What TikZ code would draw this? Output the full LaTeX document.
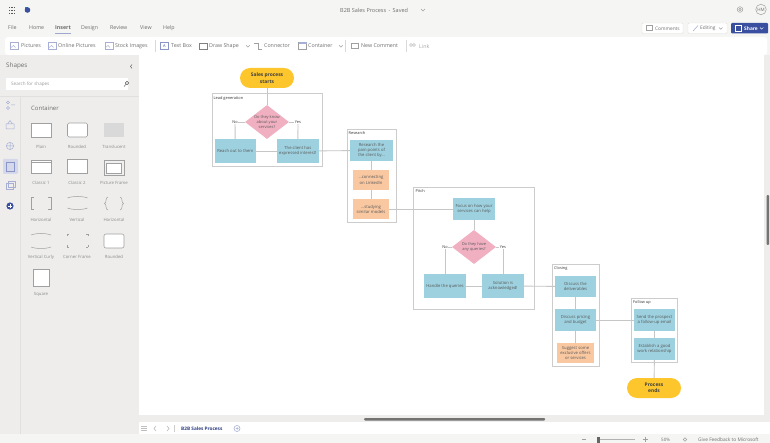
\documentclass[tikz,border=0pt]{standalone}
\usepackage{fontspec}
\setmainfont{Open Sans}
\usetikzlibrary{shapes.geometric}
\definecolor{chrome}{HTML}{F5F5F4}
\definecolor{panel}{HTML}{EEEDEC}
\definecolor{uitext}{HTML}{6E6E6E}
\definecolor{linec}{HTML}{C6C6C6}
\definecolor{flowblue}{HTML}{9DD1DF}
\definecolor{floworange}{HTML}{F9C8A1}
\definecolor{flowpink}{HTML}{F1B0C2}
\definecolor{flowyellow}{HTML}{FDC62D}
\definecolor{accent}{HTML}{3B4FA0}
\definecolor{iconc}{HTML}{A0A0A0}
\tikzset{
 x=1pt,y=-1pt,
 ui/.style={inner sep=0,font=\fontsize{5.3}{6}\selectfont,text=uitext,anchor=west},
 thumbcap/.style={inner sep=0,font=\fontsize{4.3}{5}\selectfont,text=uitext!80},
 thumb/.style={draw=iconc,line width=.6pt,fill=white},
 ic/.style={draw=iconc,line width=.5pt},
 groupbox/.style={draw=black!20,fill=white,line width=.8pt,inner sep=0},
 grouplabel/.style={inner sep=0,anchor=west,font=\fontsize{3.9}{4}\selectfont,text=black!80},
 flowbox/.style={fill=flowblue,inner sep=0,align=center,font=\fontsize{4.2}{5.1}\selectfont,text=black!65},
 optbox/.style={fill=floworange,inner sep=0,align=center,font=\fontsize{4.2}{5.1}\selectfont,text=black!65},
 choice/.style={diamond,aspect=1.3,fill=flowpink,inner sep=0,align=center,font=\fontsize{4}{5}\selectfont,text=black!65,minimum width=44pt,minimum height=34pt},
 pill/.style={fill=flowyellow,rounded corners=10pt,inner sep=0,align=center,font=\fontsize{4.9}{6.4}\selectfont\bfseries,text=black!75,minimum width=54pt,minimum height=20pt},
 tag/.style={inner sep=.6pt,font=\fontsize{3.9}{4}\selectfont,text=black!80},
 link/.style={draw=linec,line width=.9pt},
}
\begin{document}
\begin{tikzpicture}
\useasboundingbox (0,0) rectangle (770,443);
% chrome
\fill[chrome] (0,0) rectangle (770,443);
\fill[panel] (0,55) rectangle (139,434);
\fill[white] (139,55) rectangle (764,415);
\fill[panel] (139,415) rectangle (770,422);
\fill[white] (139,422) rectangle (770,434);
\fill[panel] (764,55) rectangle (770,422);
\fill[white,rounded corners=3pt] (5,37) rectangle (767,55);
\draw[black!12,line width=.4pt] (20,96) -- (20,434);
\draw[black!12,line width=.4pt] (0,96) -- (139,96);
% scrollbars
\fill[black!55,rounded corners=1pt] (364,418) rectangle (545,420.5);
\fill[black!55,rounded corners=1pt] (766.5,195) rectangle (769,245);
% title bar
\foreach \i in {0,1,2}\foreach \j in {0,1,2}\fill[black!65] (8.5+2.8*\i,7+2.8*\j) rectangle +(1.2,1.2);
\fill[accent!70!cyan] (24.5,7.5) rectangle (28,12.5);
\fill[accent] (27.5,10) circle (2.8pt);
\node[ui,font=\fontsize{5.5}{6}\selectfont] (doctitle) at (340,10) {B2B Sales Process\, -\, Saved};
\draw[ic] (421,9) -- (423,11) -- (425,9);
\draw[ic] (740,9.5) circle (2.8pt);
\draw[ic] (740,9.5) circle (1.2pt);
\node[draw=iconc,line width=.5pt,circle,minimum size=10.5pt,inner sep=0,font=\fontsize{4.5}{5}\selectfont,text=uitext] (user) at (761,9.5) {HM};
% menu
\foreach \t/\px/\nm in {File/8/mfile,Home/29/mhome,Design/81/mdesign,Review/110/mreview,View/140/mview,Help/163/mhelp}
 \node[ui] (\nm) at (\px,28) {\t};
\node[ui,font=\fontsize{5.3}{6}\selectfont\bfseries] (minsert) at (55,28) {Insert};
\draw[accent!50,line width=.7pt] (55,33.5) -- (71,33.5);
% ribbon
\foreach \t/\px/\nm in {Pictures/21/rpic,Online Pictures/58/ronl,Stock Images/115/rstock,Text Box/171/rtext,Draw Shape/209/rdraw,Connector/264/rconn,Container/308/rcont,New Comment/361/rnew}
 \node[ui] (\nm) at (\px,46) {\t};
\node[ui,text=black!35] (rlink) at (419,46) {Link};
\foreach \px in {10.5,48.5,105}{
 \draw[ic,draw=accent!45] (\px,42.5) rectangle +(8,7);
 \draw[draw=accent!45,line width=.4pt] (\px,48) -- +(3,-2.5) -- +(5,-.5);
}
\draw[ic,draw=accent!60] (160.5,42.5) rectangle +(8,7);
\node[inner sep=0,font=\fontsize{4}{4}\selectfont,text=accent] (aicon) at (164.5,46) {A};
\draw[ic,draw=black!50] (199.5,43) rectangle +(8,6.5);
\draw[ic] (254,43) -- (258,43) -- (258,49) -- (262,49);
\draw[ic] (298.5,42.5) rectangle +(8,7);
\fill[accent!45] (298.5,42.5) rectangle +(8,2);
\draw[ic] (351.5,43) rectangle +(7,5);
\draw[ic,draw=black!25] (411,45) circle (1.5pt);
\draw[ic,draw=black!25] (414,45) circle (1.5pt);
\foreach \px in {246,339}\draw[ic] (\px,45.3) -- +(1.8,1.8) -- +(3.6,0);
\foreach \px in {155,345,406}\draw[black!15,line width=.4pt] (\px,40) -- (\px,52);
% top-right buttons
\draw[black!12,fill=white,rounded corners=1pt,line width=.4pt] (642,23) rectangle (683,33.5);
\draw[black!12,fill=white,rounded corners=1pt,line width=.4pt] (688,23) rectangle (727,33.5);
\fill[accent,rounded corners=1pt] (731,23) rectangle (768,33.5);
\draw[ic] (646,25.5) rectangle +(6,4.5);
\draw[ic,draw=accent!50] (693,31) -- (698,25.5);
\node[ui,font=\fontsize{4.8}{5}\selectfont] (bcomm) at (655,28.3) {Comments};
\node[ui,font=\fontsize{4.8}{5}\selectfont] (bedit) at (700,28.3) {Editing};
\draw[ic] (719,27.5) -- +(1.7,1.7) -- +(3.4,0);
\draw[white,line width=.5pt] (735,25.5) rectangle +(6,5.5);
\node[ui,font=\fontsize{4.8}{5}\selectfont\bfseries,text=white] (bshare) at (744,28.3) {Share};
\draw[white,line width=.4pt] (760,27.5) -- +(1.7,1.7) -- +(3.4,0);
% shapes panel
\node[ui,font=\fontsize{6.3}{7}\selectfont] (pshapes) at (6,66) {Shapes};
\draw[ic,draw=black!60] (132,64.5) -- (130.5,66.5) -- (132,68.5);
\fill[white] (6,78) rectangle (128,90);
\node[ui,font=\fontsize{4.6}{5}\selectfont,text=black!40] (psearch) at (11,84) {Search for shapes};
\draw[ic,draw=black!65] (127,83) circle (1.8pt) (125.7,84.6) -- (124,86.5);
\fill[accent!22,rounded corners=1pt] (3,159) rectangle (18,174);
\draw[ic,draw=accent!45] (8,102.5) circle (1.6pt) (8,108) circle (1.6pt) (11,105) -- (15,105);
\draw[ic,draw=accent!45] (6,129) rectangle (14,124) (7.5,124) -- (10,120.5) -- (12.5,124);
\draw[ic,draw=accent!45] (10,146) circle (3.6pt) (6,146) -- (14,146) (10,142) -- (10,150);
\draw[ic,draw=accent!45] (6,183) rectangle (13,189) (8,181) rectangle (15,187);
\draw[draw=accent!60,line width=.6pt] (6,162) rectangle (14,171);
\fill[accent] (10,206) circle (3.6pt);
\draw[white,line width=.6pt] (8,206) -- (12,206) (10,204) -- (10,208);
\node[ui,font=\fontsize{6}{7}\selectfont] (pcont) at (31,108) {Container};
% thumbnails
\draw[thumb] (31,123) rectangle (51,137);
\draw[thumb,rounded corners=1.5pt] (67.5,123) rectangle (87.5,137);
\fill[black!15] (104,123) rectangle (124,137);
\draw[thumb] (31,160) rectangle (51,173); \draw[thumb] (31,160) rectangle (51,162.5);
\draw[thumb] (67.5,159.5) rectangle (87.5,173.5);
\draw[thumb,line width=.9pt,fill=black!6] (104,160.5) rectangle (124,175);
\draw[thumb] (106.5,163) rectangle (121.5,173);
\draw[ic] (34,197) -- (31.5,197) -- (31.5,209.5) -- (34,209.5) (48,197) -- (51,197) -- (51,209.5) -- (48,209.5);
\draw[ic] (67.5,198) .. controls (72,196) and (83,196) .. (87.5,198) (67.5,208) .. controls (72,210) and (83,210) .. (87.5,208);
\draw[ic] (108,197) .. controls (105,197) and (107,203) .. (104.5,203.5) .. controls (107,204) and (105,210) .. (108,210);
\draw[ic] (120,197) .. controls (123,197) and (121,203) .. (123.5,203.5) .. controls (121,204) and (123,210) .. (120,210);
\draw[ic] (31,235) .. controls (36,233) and (46,233) .. (51,235) (31,247) .. controls (36,249) and (46,249) .. (51,247);
\draw[ic] (67,234) -- (69,234) (67,234) -- (67,236) (88,234) -- (86,234) (88,234) -- (88,236) (67,247) -- (69,247) (67,247) -- (67,245) (88,247) -- (86,247) (88,247) -- (88,245);
\draw[thumb,rounded corners=2pt] (104,234) rectangle (124,248);
\draw[thumb] (33,269) rectangle (49,286);
\foreach \cx/\cy/\t/\nm in {41/147/Plain/c1,77/147/Rounded/c2,114/147/Translucent/c3,41/183/Classic 1/c4,77/183/Classic 2/c5,114/183/Picture Frame/c6,41/220/Horizontal/c7,77/220/Vertical/c8,114/220/Horizontal/c9,41/257/Vertical Curly/c10,77/257/Corner Frame/c11,114/257/Rounded/c12,41/294/Square/c13}
 \node[thumbcap] (\nm) at (\cx,\cy) {\t};
% tab bar & status
\foreach \py in {426,428,430}\draw[black!25,line width=.4pt] (141,\py) -- (147,\py);
\draw[black!30,line width=.5pt] (156,426) -- (154,428.5) -- (156,431) (167,426) -- (169,428.5) -- (167,431);
\draw[black!20,line width=.4pt] (174.5,425) -- (174.5,432);
\node[ui,font=\fontsize{4.7}{5}\selectfont\bfseries,text=accent!80!black] (tabname) at (181,428.5) {B2B Sales Process};
\draw[ic,draw=accent!50] (237,428.5) circle (3pt) (235.5,428.5) -- (238.5,428.5) (237,427) -- (237,430);
\draw[ic] (582,439.5) -- (586,439.5);
\draw[ic,draw=black!30] (597,439.5) -- (635,439.5);
\fill[black!60] (597,436.5) rectangle (599.5,442.5);
\draw[ic] (642.5,439.5) -- (647.5,439.5) (645,437) -- (645,442);
\node[ui,font=\fontsize{4.5}{5}\selectfont] (zoompct) at (661,439.5) {50\%};
\draw[ic] (685,439.5) circle (1.8pt);
\node[ui,font=\fontsize{4.8}{5}\selectfont] (feedback) at (698,439.5) {Give Feedback to Microsoft};
% containers
\node[groupbox,minimum width=110pt,minimum height=73pt] (gLead) at (267,129.5) {};
\node[groupbox,minimum width=49pt,minimum height=93pt] (gResearch) at (371.5,175.5) {};
\node[groupbox,minimum width=121pt,minimum height=122pt] (gPitch) at (473.5,248) {};
\node[groupbox,minimum width=47pt,minimum height=102pt] (gClosing) at (575.5,315) {};
\node[groupbox,minimum width=46pt,minimum height=64pt] (gFollow) at (654,330) {};
\node[grouplabel] (lLead) at (213.5,98) {Lead generation};
\node[grouplabel] (lResearch) at (348.5,133) {Research};
\node[grouplabel] (lPitch) at (415.5,191) {Pitch};
\node[grouplabel] (lClosing) at (554,268.5) {Closing};
\node[grouplabel] (lFollow) at (633,302) {Follow up};
% flow nodes
\node[pill] (start) at (267,78) {Sales process\\starts};
\node[choice] (q1) at (267,122) {Do they know\\about your\\services?};
\node[flowbox,minimum width=41.5pt,minimum height=24pt] (reach) at (235.3,151) {Reach out to them};
\node[flowbox,minimum width=41.5pt,minimum height=24pt] (client) at (297.8,151) {The client has\\expressed interest!};
\node[flowbox,minimum width=43pt,minimum height=21pt] (res) at (371.5,150.5) {Research the\\pain points of\\the client by...};
\node[optbox,minimum width=36pt,minimum height=20pt] (link1) at (371,180) {...connecting\\on LinkedIn};
\node[optbox,minimum width=36pt,minimum height=20pt] (study) at (371,209) {...studying\\similar models};
\node[flowbox,minimum width=42pt,minimum height=22pt] (focus) at (474,209) {Focus on how your\\services can help};
\node[choice] (q2) at (474,247) {Do they have\\any queries?};
\node[flowbox,minimum width=42pt,minimum height=24pt] (handle) at (445,286) {Handle the queries};
\node[flowbox,minimum width=42pt,minimum height=24pt] (sol) at (503,286) {Solution is\\acknowledged!};
\node[flowbox,minimum width=41pt,minimum height=21pt] (deliv) at (575.5,286.5) {Discuss the\\deliverables};
\node[flowbox,minimum width=41pt,minimum height=22pt] (price) at (575.5,320) {Discuss pricing\\and budget};
\node[optbox,minimum width=37pt,minimum height=20pt] (offer) at (575.5,353) {Suggest some\\exclusive offers\\or services};
\node[flowbox,minimum width=41pt,minimum height=22pt] (send) at (654.5,320) {Send the prospect\\a follow-up email};
\node[flowbox,minimum width=41pt,minimum height=22pt] (est) at (654.5,349) {Establish a good\\work relationship};
\node[pill] (finish) at (654,388) {Process\\ends};
\node[tag] (no1) at (235,122) {No};
\node[tag] (yes1) at (298,122) {Yes};
\node[tag] (no2) at (445,247) {No};
\node[tag] (yes2) at (503,247) {Yes};
% connectors
\path[link] (start) -- (q1);
\path[link] (q1.west) -- (no1);
\path[link] (no1) -- (reach);
\path[link] (q1.east) -- (yes1);
\path[link] (yes1) -- (client);
\path[link] (reach) -- (client);
\path[link] (client) -- (res);
\path[link] (res.south -| link1) -- (link1);
\path[link] (link1) -- (study);
\path[link] (study) -- (focus);
\path[link] (focus) -- (q2);
\path[link] (q2.west) -- (no2);
\path[link] (no2) -- (handle);
\path[link] (q2.east) -- (yes2);
\path[link] (yes2) -- (sol);
\path[link] (handle) -- (sol);
\path[link] (sol) -- (deliv);
\path[link] (deliv) -- (price);
\path[link] (price) -- (offer);
\path[link] (price) -- (send);
\path[link] (send) -- (est);
\path[link] (est) -- (finish);
\end{tikzpicture}
\end{document}
